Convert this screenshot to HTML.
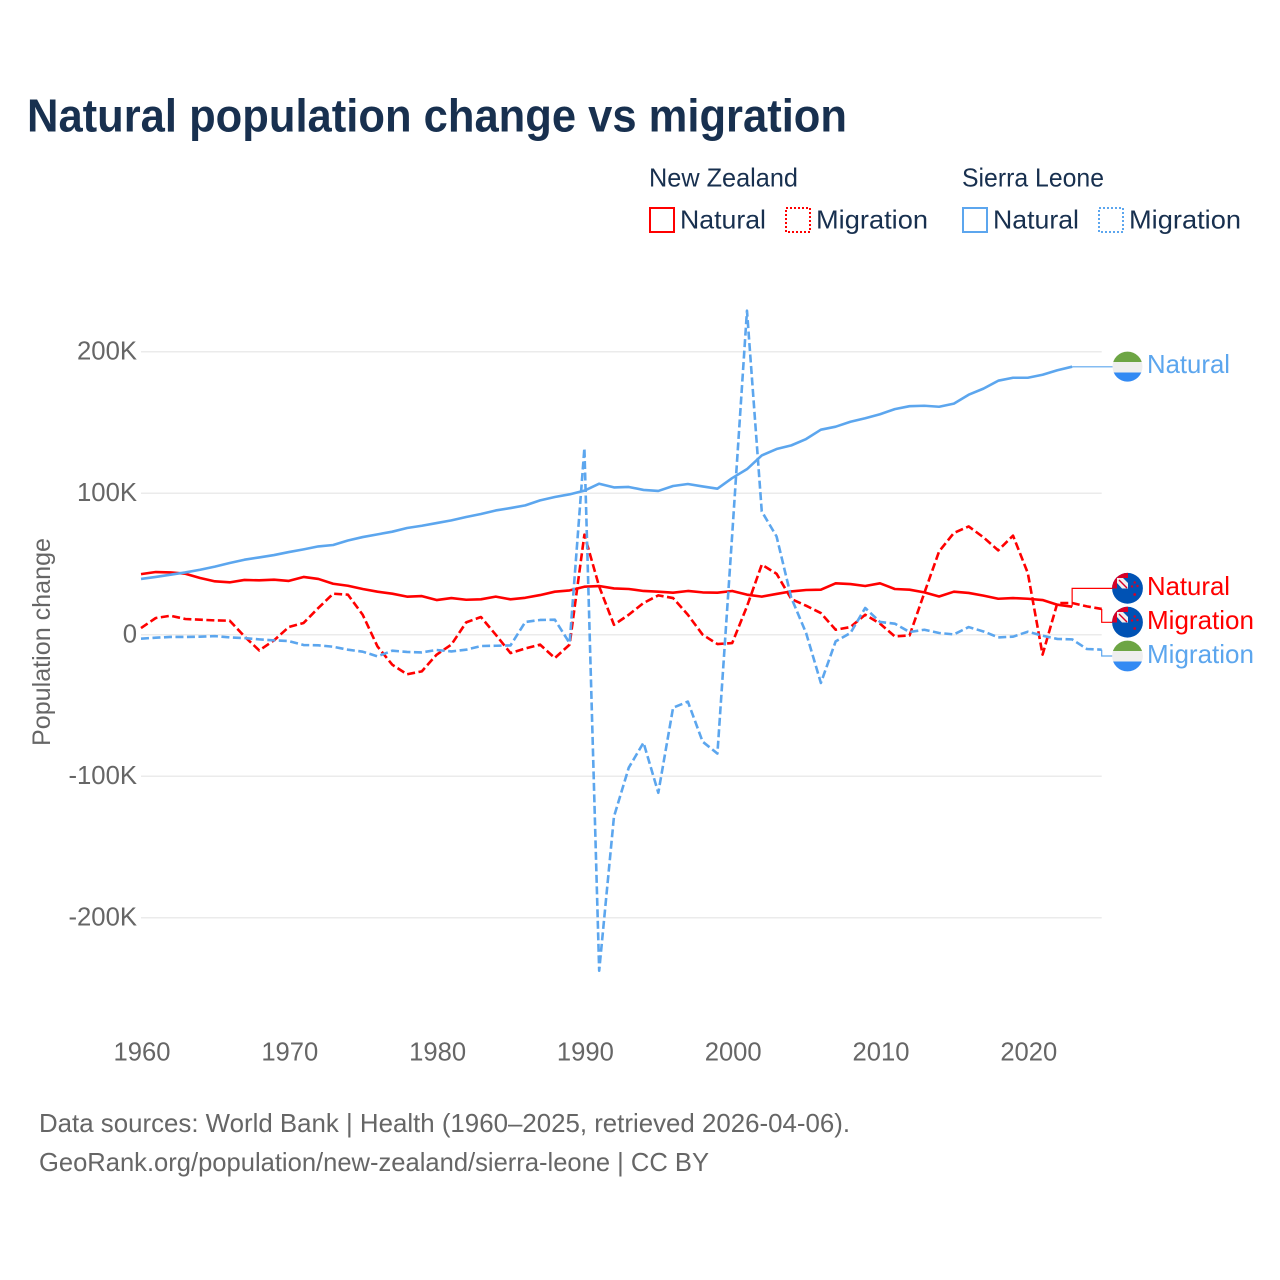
<!DOCTYPE html>
<html lang="en">
<head>
<meta charset="utf-8">
<title>Natural population change vs migration</title>
<style>
html,body{margin:0;padding:0;background:#fff;width:1280px;height:1280px;overflow:hidden}
svg{display:block}
text{font-family:"Liberation Sans",sans-serif}
</style>
</head>
<body>
<svg id="chart" xmlns="http://www.w3.org/2000/svg" width="1280" height="1280" viewBox="0 0 1280 1280">
  <defs>
    <clipPath id="flag-clip-a"><circle cx="1127.5" cy="366.6" r="15"/></clipPath>
    <clipPath id="flag-clip-b"><circle cx="1127.5" cy="588.3" r="15.4"/></clipPath>
    <clipPath id="flag-clip-c"><circle cx="1127.5" cy="622.2" r="15.4"/></clipPath>
    <clipPath id="flag-clip-d"><circle cx="1127.5" cy="656" r="15.4"/></clipPath>
  </defs>
  <rect x="0" y="0" width="1280" height="1280" fill="#ffffff"/>
  <text x="27" y="131.5" font-size="46" font-weight="700" fill="#18304f" textLength="820" lengthAdjust="spacingAndGlyphs">Natural population change vs migration</text>

  <g font-size="26" fill="#18304f">
    <text x="649" y="186.5" textLength="149" lengthAdjust="spacingAndGlyphs">New Zealand</text>
    <text x="962" y="186.5" textLength="142" lengthAdjust="spacingAndGlyphs">Sierra Leone</text>
    <g>
      <rect x="650" y="208" width="24" height="24" fill="none" stroke="#ff0000" stroke-width="2"/>
      <text x="680" y="228.5" textLength="86" lengthAdjust="spacingAndGlyphs">Natural</text>
    </g>
    <g>
      <rect x="786" y="208" width="24" height="24" fill="none" stroke="#ff0000" stroke-width="2" stroke-dasharray="2 2"/>
      <text x="816" y="228.5" textLength="112" lengthAdjust="spacingAndGlyphs">Migration</text>
    </g>
    <g>
      <rect x="963" y="208" width="24" height="24" fill="none" stroke="#5ca6ee" stroke-width="2"/>
      <text x="993" y="228.5" textLength="86" lengthAdjust="spacingAndGlyphs">Natural</text>
    </g>
    <g>
      <rect x="1099" y="208" width="24" height="24" fill="none" stroke="#5ca6ee" stroke-width="2" stroke-dasharray="2 2"/>
      <text x="1129" y="228.5" textLength="112" lengthAdjust="spacingAndGlyphs">Migration</text>
    </g>
  </g>

  <g id="grid"></g>
  <g id="yticks" font-size="25.7" fill="#666666" text-anchor="end"></g>
  <g id="xticks" font-size="25.6" fill="#666666" text-anchor="middle"></g>
  <text transform="translate(50,746) rotate(-90)" font-size="25" fill="#666666" textLength="208" lengthAdjust="spacingAndGlyphs">Population change</text>

  <g id="series" fill="none"></g>
  <g id="connectors" fill="none" stroke-width="1.2"></g>

  <g>
    <g clip-path="url(#flag-clip-a)">
      <rect x="1112" y="351" width="31" height="11" fill="#6da544"/>
      <rect x="1112" y="362" width="31" height="10.5" fill="#eeeeee"/>
      <rect x="1112" y="372.5" width="31" height="11" fill="#338af3"/>
    </g>
    <text x="1147" y="373" font-size="26" fill="#5ca6ee" textLength="83" lengthAdjust="spacingAndGlyphs">Natural</text>
  </g>
  <g>
    <g clip-path="url(#flag-clip-b)">
      <rect x="1112" y="572" width="32" height="33" fill="#0052b4"/>
      <rect x="1112" y="572" width="16" height="16.5" fill="#d80027"/>
      <rect x="1117" y="578" width="11" height="10.5" fill="#f0f0f0"/>
      <polygon points="1117,583 1117,588.5 1122,588.5" fill="#0052b4"/>
      <polygon points="1123,578 1128,578 1128,583" fill="#0052b4"/>
      <path d="M1119 580 L1127 588" stroke="#d80027" stroke-width="1.4"/>
      <circle cx="1134.7" cy="582.5" r="1.2" fill="#d80027"/>
      <circle cx="1137.5" cy="586" r="1.2" fill="#d80027"/>
      <circle cx="1132" cy="586.5" r="1.2" fill="#d80027"/>
      <circle cx="1134.7" cy="594.5" r="1.4" fill="#d80027"/>
    </g>
    <text x="1147" y="595" font-size="26" fill="#ff0000" textLength="83" lengthAdjust="spacingAndGlyphs">Natural</text>
  </g>
  <g>
    <g clip-path="url(#flag-clip-c)">
      <rect x="1112" y="606" width="32" height="33" fill="#0052b4"/>
      <rect x="1112" y="606" width="16" height="16.5" fill="#d80027"/>
      <rect x="1117" y="612" width="11" height="10.5" fill="#f0f0f0"/>
      <polygon points="1117,617 1117,622.5 1122,622.5" fill="#0052b4"/>
      <polygon points="1123,612 1128,612 1128,617" fill="#0052b4"/>
      <path d="M1119 614 L1127 622" stroke="#d80027" stroke-width="1.4"/>
      <circle cx="1134.7" cy="616.5" r="1.2" fill="#d80027"/>
      <circle cx="1137.5" cy="620" r="1.2" fill="#d80027"/>
      <circle cx="1132" cy="620.5" r="1.2" fill="#d80027"/>
      <circle cx="1134.7" cy="628.5" r="1.4" fill="#d80027"/>
    </g>
    <text x="1147" y="629" font-size="26" fill="#ff0000" textLength="107" lengthAdjust="spacingAndGlyphs">Migration</text>
  </g>
  <g>
    <g clip-path="url(#flag-clip-d)">
      <rect x="1112" y="640" width="32" height="11" fill="#6da544"/>
      <rect x="1112" y="651" width="32" height="10.5" fill="#eeeeee"/>
      <rect x="1112" y="661.5" width="32" height="11" fill="#338af3"/>
    </g>
    <text x="1147" y="663" font-size="26" fill="#5ca6ee" textLength="107" lengthAdjust="spacingAndGlyphs">Migration</text>
  </g>

  <g font-size="26" fill="#666666">
    <text x="39" y="1132" textLength="811" lengthAdjust="spacingAndGlyphs">Data sources: World Bank | Health (1960–2025, retrieved 2026-04-06).</text>
    <text x="39" y="1171" textLength="670" lengthAdjust="spacingAndGlyphs">GeoRank.org/population/new-zealand/sierra-leone | CC BY</text>
  </g>
</svg>
<script>
const startYear = 1960;
const yTickValues = [200, 100, 0, -100, -200];
const yTickLabels = ["200K", "100K", "0", "-100K", "-200K"];
const xTickYears = [1960, 1970, 1980, 1990, 2000, 2010, 2020];

// Values in thousands, one per year from 1960
const nzNatural = [42.8,44.3,44,43.1,40.1,37.7,37,38.7,38.4,38.9,38,40.8,39.4,36,34.6,32.3,30.4,29,26.9,27.3,24.5,25.9,24.7,25,26.9,25,26.1,28,30.4,31.3,33.9,34.4,32.7,32.3,30.9,30.4,29.7,30.9,29.9,29.7,30.9,28.3,26.9,28.8,30.6,31.6,31.8,36.3,35.8,34.4,36.3,32.3,31.8,29.9,27,30.4,29.5,27.6,25.4,25.9,25.4,24.5,21.2,19.8];
const nzMigration = [4.7,11.8,13.4,11.1,10.6,10.1,9.9,-1.2,-11.1,-4,5.4,8.3,18.9,29,28.3,14.1,-8.3,-21.2,-28,-25.9,-14.1,-7,8.7,12.5,0,-13,-9.7,-7,-16.5,-7,70.7,34,7,14.1,22.4,27.8,25.9,14.1,0,-6.6,-5.9,20,49.5,43.1,25.2,20.5,15.3,3.5,5.4,14.1,7.8,-1.2,-0.5,29.5,58.9,71.9,76.5,68.8,59.6,70,43.6,-14.1,22.4,22.4,20,18.2];
const slNatural = [39.4,40.8,42.4,44,45.9,48.1,50.7,53,54.6,56.3,58.4,60.3,62.4,63.4,66.6,69,70.9,72.8,75.4,77,78.9,80.8,83.2,85.3,87.8,89.5,91.4,94.9,97.3,99.2,101.8,106.7,104.1,104.4,102.3,101.6,105.1,106.5,104.8,103.2,110.7,117,126.7,131.2,133.8,138.3,144.9,147,150.5,153,155.8,159.4,161.5,161.8,161.1,163.3,169.6,173.9,179.5,181.6,181.6,183.7,186.9,189.4];
const slMigration = [-2.8,-2.1,-1.6,-1.6,-1.4,-1,-1.9,-2.4,-3.3,-4,-4.5,-7.3,-7.5,-8.5,-10.6,-12,-15.3,-11.3,-12.2,-12.5,-10.8,-11.8,-10.6,-8,-7.8,-7.6,9,10.4,10.6,-5.9,131.9,-237.5,-128.6,-94,-76.3,-111.7,-51.6,-47.3,-75.6,-84,70.7,229,87.1,69.5,26,1.2,-34.1,-4.7,1.2,18.9,9,7.8,1.9,3.5,1.2,0.2,5.4,2.3,-1.9,-1.4,2.1,-0.7,-3,-3.3,-10.1,-10.6];

const NS = "http://www.w3.org/2000/svg";
const RED = "#ff0000";
const BLUE = "#5ca6ee";
const xScale = function (year) { return 141 + (year - startYear) * 14.78; };
const yScale = function (value) { return 634.7 - value * 1.415; };
const gridLayer = document.getElementById("grid");
const yLayer = document.getElementById("yticks");
const xLayer = document.getElementById("xticks");
const seriesLayer = document.getElementById("series");
const connectorLayer = document.getElementById("connectors");

yTickValues.forEach(function (value, i) {
  const line = document.createElementNS(NS, "line");
  
  
  line.setAttribute("x1", xScale(1960));
  line.setAttribute("x2", xScale(2025));
  line.setAttribute("y1", yScale(value));
  line.setAttribute("y2", yScale(value));
  line.setAttribute("stroke", "#ebebeb");
  line.setAttribute("stroke-width", "1.5");
  gridLayer.appendChild(line);

  const label = document.createElementNS(NS, "text");
  
  
  label.setAttribute("x", 137);
  label.setAttribute("y", yScale(value) + 8);
  label.textContent = yTickLabels[i];
  yLayer.appendChild(label);
});

xTickYears.forEach(function (year) {
  const label = document.createElementNS(NS, "text");
  
  
  label.setAttribute("x", xScale(year) + 1);
  label.setAttribute("y", 1060.5);
  label.textContent = year;
  xLayer.appendChild(label);
});

function linePoints(values) {
  return values.map(function (value, i) {
    return xScale(startYear + i).toFixed(2) + "," + yScale(value).toFixed(2);
  }).join(" ");
}

function drawSeries(values, color, dashed, name) {
  const line = document.createElementNS(NS, "polyline");
  
  
  line.setAttribute("points", linePoints(values));
  line.setAttribute("stroke", color);
  line.setAttribute("stroke-width", "2.6");
  line.setAttribute("stroke-linejoin", "round");
  if (dashed) {
    line.setAttribute("stroke-dasharray", "8 3.5");
  }
  seriesLayer.appendChild(line);
}

drawSeries(nzNatural, RED, false, "line-nz-natural");
drawSeries(nzMigration, RED, true, "line-nz-migration");
drawSeries(slNatural, BLUE, false, "line-sl-natural");
drawSeries(slMigration, BLUE, true, "line-sl-migration");

function drawConnector(values, labelY, color, name) {
  const last = values.length - 1;
  const endX = xScale(startYear + last);
  const endY = yScale(values[last]);
  const path = document.createElementNS(NS, "path");
  
  
  path.setAttribute("d", "M" + endX + " " + endY + " V" + labelY + " H1113");
  path.setAttribute("stroke", color);
  connectorLayer.appendChild(path);
}

drawConnector(slNatural, 366.8, BLUE, "connector-sl-natural");
drawConnector(nzNatural, 588.4, RED, "connector-nz-natural");
drawConnector(nzMigration, 622.3, RED, "connector-nz-migration");
drawConnector(slMigration, 656, BLUE, "connector-sl-migration");
</script>
</body>
</html>
